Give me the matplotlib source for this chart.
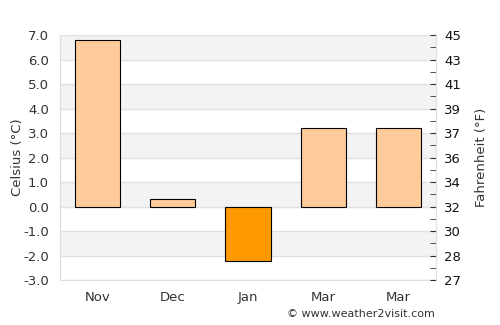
import numpy as np
import matplotlib
matplotlib.use('Agg')
import matplotlib.pyplot as plt

months = ['Nov', 'Dec', 'Jan', 'Mar', 'Mar']
temps_c = [6.8, 0.3, -2.2, 3.2, 3.2]
colors = ['#ffcc99', '#ffcc99', '#ff9900', '#ffcc99', '#ffcc99']

c_ticks = np.arange(-3, 8, 1)

fig = plt.figure(figsize=(5, 3.25), dpi=100)
ax = fig.add_axes([0.12, 0.138, 0.752, 0.754])

# alternating bands
for lo in range(-3, 7):
    if (lo % 2) == 0:
        ax.axhspan(lo, lo + 1, color='#f3f3f3', zorder=0, lw=0)
for t in c_ticks:
    ax.axhline(t, color='#e0e0e0', lw=1, zorder=1)

x = np.arange(len(months))
ax.bar(x, temps_c, width=0.6, color=colors, edgecolor='black', linewidth=0.8, zorder=3)

ax.set_xlim(-0.5, len(months) - 0.5)
ax.set_ylim(-3, 7)
ax.set_yticks(c_ticks)
ax.set_yticklabels([f'{t:.1f}' for t in c_ticks], color='#333333', fontsize=9.5)
ax.set_xticks(x)
ax.set_xticklabels(months, color='#333333', fontsize=9.5)
ax.tick_params(axis='both', length=0, pad=8)
ax.set_ylabel('Celsius (°C)', color='#333333', fontsize=9.5)
ax.yaxis.set_label_coords(-0.097, 0.5)
for s in ['top', 'right']:
    ax.spines[s].set_visible(False)
for s in ['left', 'bottom']:
    ax.spines[s].set_color('#dddddd')

# Fahrenheit axis
ax2 = ax.twinx()
ax2.set_ylim(-3, 7)
ax2.set_yticks(c_ticks)
ax2.set_yticklabels([f'{round(t * 9 / 5 + 32)}' for t in c_ticks], color='#111111', fontsize=9.5)
ax2.set_yticks(np.arange(-2.5, 7, 1), minor=True)
ax2.tick_params(axis='y', which='both', direction='in', length=4, color='#333333', pad=6)
ax2.set_ylabel('Fahrenheit (°F)', color='#333333', fontsize=9.5)
ax2.yaxis.set_label_coords(1.105, 0.5)
for s in ['top', 'left', 'bottom']:
    ax2.spines[s].set_visible(False)
ax2.spines['right'].set_color('#dddddd')

fig.text(0.87, 0.035, '© www.weather2visit.com', ha='right', va='center',
         fontsize=8, color='#333333')

fig.savefig('out.png', dpi=100, facecolor='white')
